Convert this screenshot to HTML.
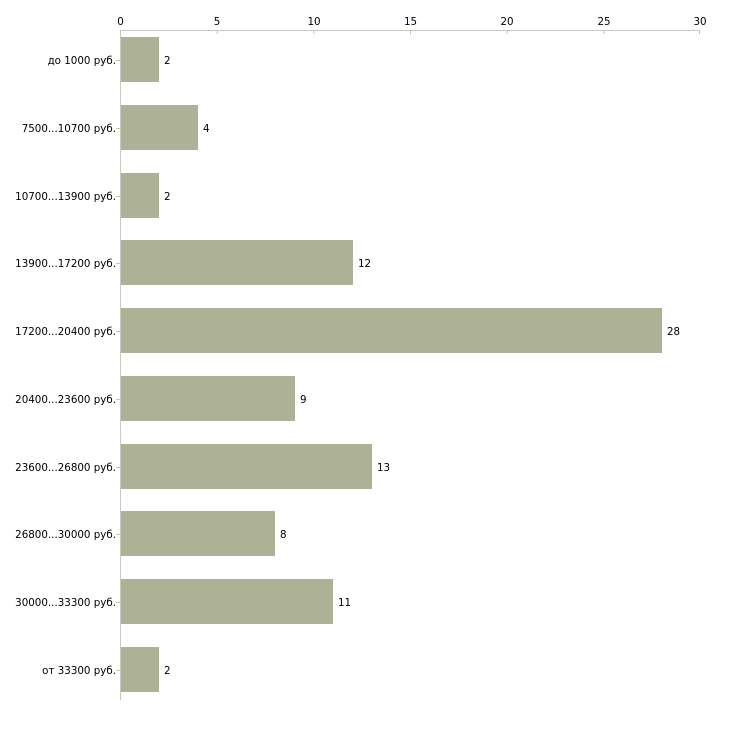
<!DOCTYPE html>
<html><head><meta charset="utf-8"><style>
html,body{margin:0;padding:0;background:#fff;}
svg text{font-family:"DejaVu Sans","Liberation Sans",sans-serif;font-size:10.3px;fill:#000;}
</style></head><body>
<svg width="730" height="730" xmlns="http://www.w3.org/2000/svg">
<line x1="120" y1="30.5" x2="700" y2="30.5" stroke="#c8c8c0" stroke-width="1"/>
<line x1="120.5" y1="30" x2="120.5" y2="700" stroke="#c8c8c0" stroke-width="1"/>
<g stroke="#c8c8a0">
<line x1="120.5" y1="30" x2="120.5" y2="34"/>
<line x1="217.2" y1="30" x2="217.2" y2="34"/>
<line x1="313.8" y1="30" x2="313.8" y2="34"/>
<line x1="410.5" y1="30" x2="410.5" y2="34"/>
<line x1="507.2" y1="30" x2="507.2" y2="34"/>
<line x1="603.8" y1="30" x2="603.8" y2="34"/>
<line x1="699.5" y1="30" x2="699.5" y2="34"/>
</g>
<g text-anchor="middle">
<text x="120.5" y="25">0</text><text x="217" y="25">5</text><text x="314" y="25">10</text>
<text x="410.5" y="25">15</text><text x="507" y="25">20</text><text x="604" y="25">25</text><text x="700" y="25">30</text>
</g>
<g fill="#adb296">
<rect x="121" y="37" width="38" height="45"/>
<rect x="121" y="105" width="77" height="45"/>
<rect x="121" y="173" width="38" height="45"/>
<rect x="121" y="240" width="232" height="45"/>
<rect x="121" y="308" width="541" height="45"/>
<rect x="121" y="376" width="174" height="45"/>
<rect x="121" y="444" width="251" height="45"/>
<rect x="121" y="511" width="154" height="45"/>
<rect x="121" y="579" width="212" height="45"/>
<rect x="121" y="647" width="38" height="45"/>
</g>
<g stroke="#c8c8a0">
<line x1="116" y1="60.5" x2="120" y2="60.5"/><line x1="116" y1="128.5" x2="120" y2="128.5"/>
<line x1="116" y1="196.5" x2="120" y2="196.5"/><line x1="116" y1="263.5" x2="120" y2="263.5"/>
<line x1="116" y1="331.5" x2="120" y2="331.5"/><line x1="116" y1="399.5" x2="120" y2="399.5"/>
<line x1="116" y1="467.5" x2="120" y2="467.5"/><line x1="116" y1="534.5" x2="120" y2="534.5"/>
<line x1="116" y1="602.5" x2="120" y2="602.5"/><line x1="116" y1="670.5" x2="120" y2="670.5"/>
</g>
<g text-anchor="end">
<text x="116" y="64">до 1000 руб.</text>
<text x="116" y="132">7500...10700 руб.</text>
<text x="116" y="200">10700...13900 руб.</text>
<text x="116" y="267">13900...17200 руб.</text>
<text x="116" y="335">17200...20400 руб.</text>
<text x="116" y="403">20400...23600 руб.</text>
<text x="116" y="471">23600...26800 руб.</text>
<text x="116" y="538">26800...30000 руб.</text>
<text x="116" y="606">30000...33300 руб.</text>
<text x="116" y="674">от 33300 руб.</text>
</g>
<g>
<text x="164" y="64">2</text>
<text x="203" y="132">4</text>
<text x="164" y="200">2</text>
<text x="358" y="267">12</text>
<text x="667" y="335">28</text>
<text x="300" y="403">9</text>
<text x="377" y="471">13</text>
<text x="280" y="538">8</text>
<text x="338" y="606">11</text>
<text x="164" y="674">2</text>
</g>
</svg>
</body></html>
